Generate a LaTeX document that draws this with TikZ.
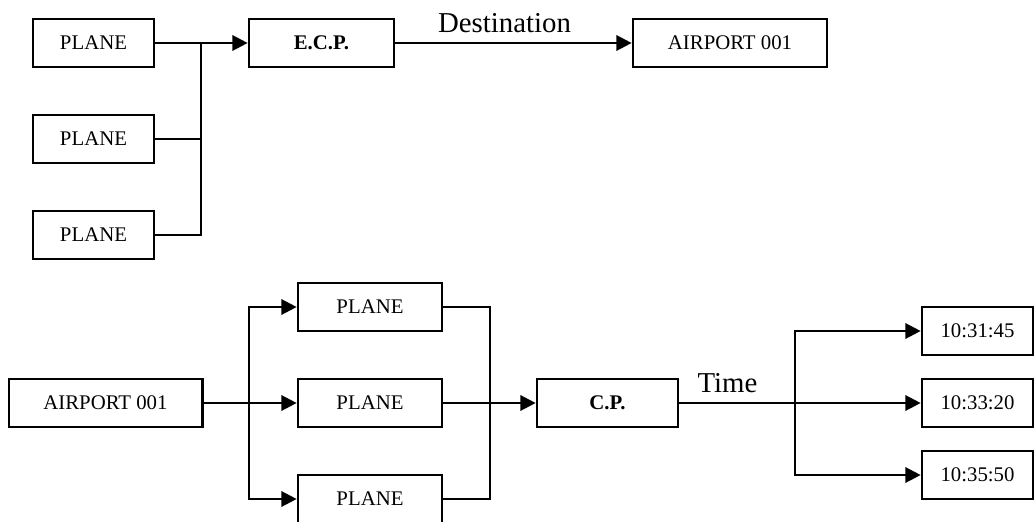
\documentclass[tikz,border=0pt]{standalone}
\usepackage{fontspec}
\setmainfont{Liberation Serif}
\usetikzlibrary{arrows.meta}
\begin{document}
\begin{tikzpicture}[x=0.75pt,y=-0.75pt,
  box/.style={draw,line width=2pt,inner sep=0pt,minimum height=36pt,
    font=\fontsize{15.6}{18}\selectfont},
  conn/.style={line width=1.8pt},
  arr/.style={conn,-{Triangle[length=11.5pt,width=11.5pt]}},
  lbl/.style={anchor=base,inner sep=0pt,font=\fontsize{21.6}{24}\selectfont}]
\useasboundingbox (0,0) rectangle (1034,521);
% top
\node[box,minimum width=90.75pt] (P1) at (93.5,43) {PLANE};
\node[box,minimum width=90.75pt] (P2) at (93.5,139) {PLANE};
\node[box,minimum width=90.75pt] (P3) at (93.5,235) {PLANE};
\node[box,minimum width=108.75pt,font=\fontsize{15.6}{18}\selectfont\bfseries] (ECP) at (321.5,43) {E.C.P.};
\node[box,minimum width=145.5pt] (AP1) at (730,43) {AIRPORT 001};
\coordinate (j1) at (201,43);
\draw[arr] (P1) -- (ECP);
\draw[conn] (P2.east) -| (j1);
\draw[conn] (P3.east) -| (j1);
\draw[arr] (ECP) -- (AP1);
\node[lbl] (dest) at (504.5,32) {Destination};
% bottom
\node[box,minimum width=145pt] (AP2) at (105.5,403) {AIRPORT 001};
\node[box,minimum width=108pt] (Q1) at (370,307) {PLANE};
\node[box,minimum width=108pt] (Q2) at (370,403) {PLANE};
\node[box,minimum width=108pt] (Q3) at (370,499) {PLANE};
\node[box,minimum width=105.75pt,font=\fontsize{15.6}{18}\selectfont\bfseries] (CP) at (607.5,403) {C.P.};
\node[box,minimum width=83.25pt] (T1) at (977.5,331) {10:31:45};
\node[box,minimum width=83.25pt] (T2) at (977.5,403) {10:33:20};
\node[box,minimum width=83.25pt] (T3) at (977.5,475) {10:35:50};
\coordinate (s1) at (249,403);
\coordinate (m1) at (490,403);
\coordinate (s2) at (795,403);
\draw[arr] (AP2) -- (Q2);
\draw[arr] (s1) |- (Q1.west);
\draw[arr] (s1) |- (Q3.west);
\draw[conn] (Q1.east) -| (m1);
\draw[conn] (Q3.east) -| (m1);
\draw[arr] (Q2) -- (CP);
\draw[arr] (CP) -- (T2);
\draw[arr] (s2) |- (T1.west);
\draw[arr] (s2) |- (T3.west);
\node[lbl] (time) at (727.5,392) {Time};
\end{tikzpicture}
\end{document}
